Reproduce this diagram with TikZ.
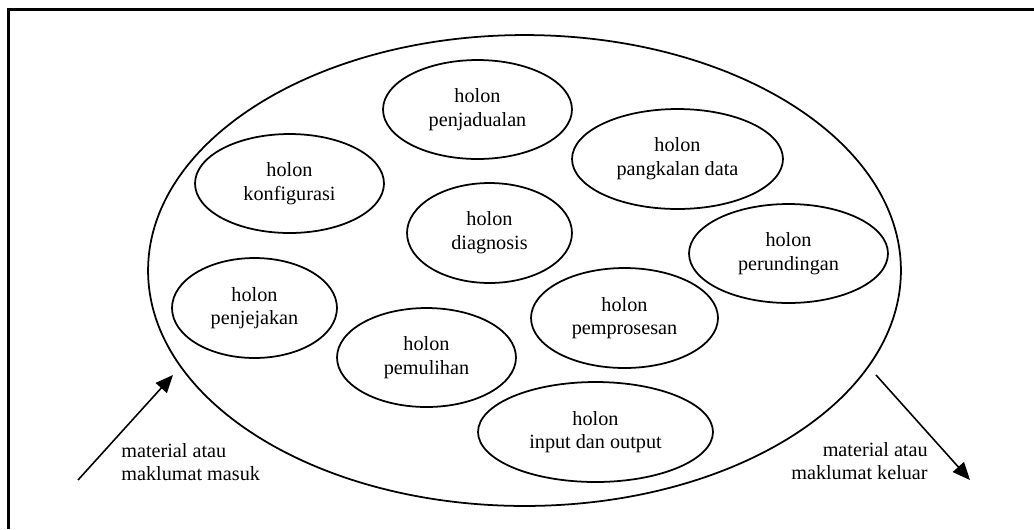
\documentclass[tikz,border=0pt]{standalone}
\usepackage{fontspec}
\setmainfont{Liberation Serif}
\usetikzlibrary{shapes,arrows.meta,positioning}
\tikzstyle{holon} = [draw, ellipse, line width=1pt, inner sep=0pt,
    align=center, font=\fontsize{11.5pt}{13.5pt}\selectfont]
\tikzstyle{sistem} = [draw, ellipse, line width=1pt, inner sep=0pt]
\tikzstyle{aliran} = [line width=0.9pt, -{Triangle[length=10pt,width=8.5pt]}]
\tikzstyle{catatan} = [inner sep=0pt, font=\fontsize{11.5pt}{13.5pt}\selectfont]

\begin{document}
\begin{tikzpicture}[x=0.02cm, y=-0.02cm]
\useasboundingbox (0,0) rectangle (1034,529);

% bingkai luar
\draw [line width=1.2pt] (1034,9.5) -- (8.5,9.5) -- (8.5,529);

% sistem pembuatan holonik
\node [sistem, minimum width=15.06cm, minimum height=9.42cm] (sistem) at (524.5,270.5) {};

\node [holon, minimum width=3.78cm, minimum height=1.98cm] (jadual) at (477.5,109.5) {holon\\penjadualan};
\node [holon, minimum width=4.22cm, minimum height=2.00cm] (data) at (677.5,159) {holon\\pangkalan data};
\node [holon, minimum width=3.78cm, minimum height=1.98cm] (konfig) at (289.5,183.5) {holon\\konfigurasi};
\node [holon, minimum width=3.30cm, minimum height=2.00cm] (diagnos) at (489.5,233) {holon\\diagnosis};
\node [holon, minimum width=3.98cm, minimum height=1.98cm] (runding) at (788.5,253.5) {holon\\perundingan};
\node [holon, minimum width=3.30cm, minimum height=2.00cm] (jejak) at (254.5,308) {holon\\penjejakan};
\node [holon, minimum width=3.74cm, minimum height=2.00cm] (proses) at (624.5,318) {holon\\pemprosesan};
\node [holon, minimum width=3.58cm, minimum height=1.98cm] (pulih) at (426.5,357.5) {holon\\pemulihan};
\node [holon, minimum width=4.70cm, minimum height=2.00cm] (io) at (595.5,432) {holon\\input dan output};

% aliran masuk dan keluar
\coordinate (masuk) at (78,480);
\coordinate (masukhujung) at (173,375);
\coordinate (keluar) at (876,375);
\coordinate (keluarhujung) at (970,480);
\draw [aliran] (masuk) -- (masukhujung);
\draw [aliran] (keluar) -- (keluarhujung);

\node [catatan, anchor=west, align=left] (labelmasuk) at (121,462) {material atau\\maklumat masuk};
\node [catatan, anchor=east, align=right] (labelkeluar) at (928,461) {material atau\\maklumat keluar};

\end{tikzpicture}
\end{document}
